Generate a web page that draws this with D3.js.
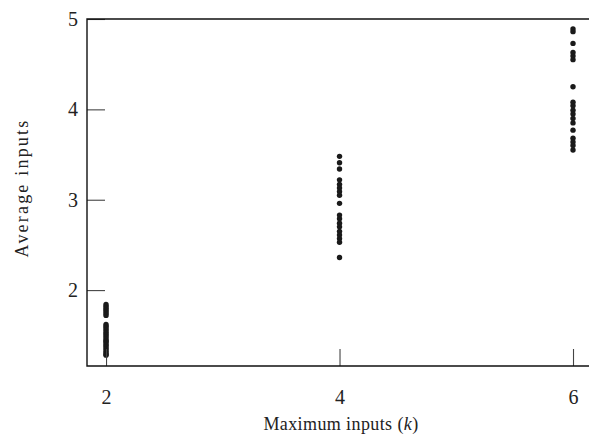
<!DOCTYPE html>
<html><head><meta charset="utf-8">
<script src="https://cdn.jsdelivr.net/npm/d3@7/dist/d3.min.js"></script>
<style>body{margin:0;background:#fff}svg{display:block}</style>
</head><body>
<script>
// Data
const categories = [2, 4, 6];
const k2 = [1.84, 1.82, 1.80, 1.78, 1.76, 1.74, 1.72, 1.62, 1.60, 1.58, 1.56, 1.54, 1.52, 1.50, 1.48, 1.46, 1.44, 1.43, 1.41, 1.39, 1.37, 1.35, 1.33, 1.31, 1.29, 1.28];
const k4 = [3.48, 3.41, 3.34, 3.22, 3.17, 3.13, 3.09, 3.05, 2.96, 2.83, 2.79, 2.74, 2.70, 2.65, 2.61, 2.57, 2.53, 2.36];
const k6 = [4.89, 4.86, 4.73, 4.63, 4.59, 4.55, 4.25, 4.08, 4.04, 3.99, 3.95, 3.90, 3.85, 3.77, 3.68, 3.64, 3.60, 3.55];
const seriesValues = [k2, k4, k6];
const xTicks = [2, 4, 6];
const yTicks = [2, 3, 4, 5];

(function () {
const W = 590, H = 435;
const mLeft = 87, mRight = 589, mTop = 19, mBottom = 366;
const svg = d3.select("body").append("svg").attr("width", W).attr("height", H);

const x = d3.scaleLinear().domain([1.837, 6.137]).range([mLeft, mRight]);
const y = d3.scaleLinear().domain([1.16, 5]).range([mBottom, mTop]);

const font = "'Liberation Serif', 'Times New Roman', serif";

// dots
const pts = [];
categories.forEach((c, i) => seriesValues[i].forEach(v => pts.push({c, v})));
svg.append("g").selectAll("circle").data(pts).join("circle")
  .attr("cx", d => x(d.c)).attr("cy", d => y(d.v)).attr("r", 2.7)
  .attr("fill", "#1a1a1a");

// x axis ticks (inward)
const xAxis = d3.axisBottom(x).tickValues(xTicks).tickSizeInner(-17).tickSizeOuter(0).tickPadding(24).tickFormat(d3.format("d"));
const gx = svg.append("g").attr("transform", `translate(0,${mBottom})`).call(xAxis);
gx.select(".domain").remove();
gx.selectAll(".tick line").attr("stroke", "#444").attr("stroke-width", 1.1);
gx.selectAll(".tick text").style("font-family", font).style("font-size", "20px").attr("fill", "#222");

const yAxis = d3.axisLeft(y).tickValues(yTicks).tickSizeInner(-18).tickSizeOuter(0).tickPadding(9).tickFormat(d3.format("d"));
const gy = svg.append("g").attr("transform", `translate(${mLeft},0)`).call(yAxis);
gy.select(".domain").remove();
gy.selectAll(".tick line").attr("stroke", "#444").attr("stroke-width", 1.1);
gy.selectAll(".tick text").style("font-family", font).style("font-size", "20px").attr("fill", "#222");

// frame: left, top, bottom
svg.append("path")
  .attr("d", `M${mRight},${mTop} H${mLeft} V${mBottom} H${mRight}`)
  .attr("fill", "none").attr("stroke", "#111").attr("stroke-width", 1.4);

// axis titles
const xt = svg.append("text").attr("x", 341).attr("y", 430).attr("text-anchor", "middle")
  .style("font-family", font).style("font-size", "18px").attr("letter-spacing", 0.4).attr("fill", "#222");
xt.append("tspan").text("Maximum inputs (");
xt.append("tspan").attr("font-style", "italic").text("k");
xt.append("tspan").text(")");

svg.append("text").attr("transform", `translate(28,188) rotate(-90)`).attr("text-anchor", "middle")
  .style("font-family", font).style("font-size", "18px").attr("letter-spacing", 2.2).attr("fill", "#222")
  .text("Average inputs");
})();
</script>
</body></html>
